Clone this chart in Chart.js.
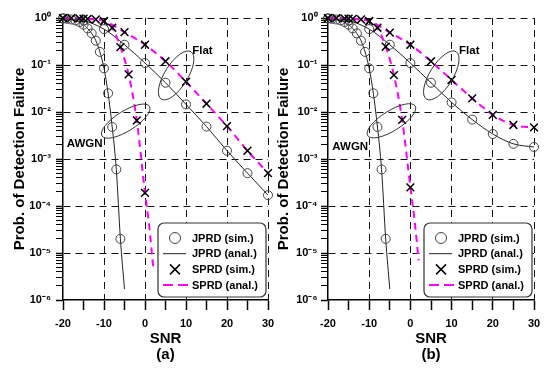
<!DOCTYPE html>
<html>
<head>
<meta charset="utf-8">
<script src="https://cdn.jsdelivr.net/npm/chart.js@4"></script>
<style>
  body { margin: 0; background: #fff; }
  #wrap { position: relative; width: 550px; height: 370px; }
  canvas { position: absolute; top: 0; }
</style>
</head>
<body>
<div id="wrap">
  <canvas id="plotA" width="290" height="370" style="left:0px"></canvas>
  <canvas id="plotB" width="280" height="370" style="left:270px"></canvas>
</div>
<script>
// SNR grids (dB)
const snrJprdAwgnSim = [-20, -19, -18, -17, -16, -15, -14, -13, -12, -11, -10, -9, -8, -7, -6];
const snrJprdAwgnAnal = [-20, -19, -18, -17, -16, -15, -14, -13, -12, -11, -10, -9, -8, -7, -6, -5];
const snrSprdAwgnSim = [-20, -18, -16, -14, -12, -10, -8, -6, -4, -2, 0];
const snrSprdAwgnAnal = [-20, -18, -16, -14, -12, -10, -8, -6, -4, -2, 0, 1, 2];
const snrFlat = [-20, -15, -10, -5, 0, 5, 10, 15, 20, 25, 30];

// (a)
const jprdAwgnSimA = [0.98, 0.96, 0.93, 0.89, 0.82, 0.72, 0.6, 0.47, 0.33, 0.19, 0.085, 0.025, 0.0048, 0.0006, 0.00002];
const jprdAwgnAnalA = [0.98, 0.96, 0.93, 0.89, 0.82, 0.72, 0.6, 0.47, 0.33, 0.19, 0.085, 0.025, 0.0048, 0.0006, 0.00002, 0.0000017];
const jprdFlatSimA = [0.98, 0.88, 0.58, 0.27, 0.11, 0.042, 0.0145, 0.0049, 0.0015, 0.0005, 0.00017];
const jprdFlatAnalA = [0.98, 0.88, 0.58, 0.27, 0.11, 0.042, 0.0145, 0.0049, 0.0015, 0.0005, 0.00017];
const sprdAwgnSimA = [0.99, 0.99, 0.98, 0.96, 0.93, 0.86, 0.62, 0.24, 0.063, 0.0066, 0.00019];
const sprdAwgnAnalA = [0.99, 0.99, 0.98, 0.96, 0.93, 0.86, 0.62, 0.24, 0.063, 0.0066, 0.00019, 0.00004, 0.000005];
const sprdFlatSimA = [0.99, 0.97, 0.86, 0.5, 0.27, 0.12, 0.044, 0.015, 0.005, 0.0015, 0.0005];
const sprdFlatAnalA = [0.99, 0.97, 0.86, 0.5, 0.27, 0.12, 0.044, 0.015, 0.005, 0.0015, 0.0005];

// (b)
const jprdAwgnSimB = [0.98, 0.96, 0.93, 0.89, 0.82, 0.72, 0.6, 0.47, 0.33, 0.19, 0.085, 0.025, 0.0048, 0.0006, 0.00002];
const jprdAwgnAnalB = [0.98, 0.96, 0.93, 0.89, 0.82, 0.72, 0.6, 0.47, 0.33, 0.19, 0.085, 0.025, 0.0048, 0.0006, 0.00002, 0.0000017];
const jprdFlatSimB = [0.98, 0.88, 0.58, 0.27, 0.11, 0.042, 0.016, 0.0069, 0.0034, 0.0021, 0.0018];
const jprdFlatAnalB = [0.98, 0.88, 0.58, 0.27, 0.11, 0.042, 0.016, 0.0069, 0.0034, 0.0021, 0.0018];
const sprdAwgnSimB = [0.99, 0.99, 0.98, 0.96, 0.93, 0.86, 0.62, 0.245, 0.061, 0.0068, 0.00025];
const sprdAwgnAnalB = [0.99, 0.99, 0.98, 0.96, 0.93, 0.86, 0.62, 0.245, 0.061, 0.0068, 0.00025, 0.00005, 0.000007];
const sprdFlatSimB = [0.99, 0.97, 0.86, 0.49, 0.27, 0.12, 0.048, 0.0195, 0.0087, 0.0053, 0.0047];
const sprdFlatAnalB = [0.99, 0.97, 0.86, 0.49, 0.27, 0.12, 0.048, 0.0195, 0.0087, 0.0053, 0.0047];

const legendLabels = ['JPRD (sim.)', 'JPRD (anal.)', 'SPRD (sim.)', 'SPRD (anal.)'];
const yTickPowers = [0, -1, -2, -3, -4, -5, -6];

const FONT = '"Liberation Sans", Arial, sans-serif';
Chart.defaults.font.family = FONT;
Chart.defaults.color = '#000';

const SUP = {'0':'⁰','1':'¹','2':'²','3':'³','4':'⁴','5':'⁵','6':'⁶','7':'⁷','8':'⁸','9':'⁹','-':'⁻'};

function pts(xs, ys) {
    return xs.map((x, i) => ({x: x, y: ys[i]}));
}

function isPow10(v) {
    const l = Math.log10(v);
    return Math.abs(l - Math.round(l)) < 1e-6;
}

function isHalfStep(v) {
    const m = v / Math.pow(10, Math.floor(Math.log10(v) + 1e-9));
    return Math.abs(m - 1.5) < 1e-6;
}

function markerSet(data, style) {
    return {
        data: data, showLine: false, clip: false,
        pointStyle: style,
        pointRadius: style === 'circle' ? 4.5 : 5.5,
        pointBorderWidth: style === 'circle' ? 1 : 1.5,
        pointBorderColor: style === 'circle' ? '#444' : '#000',
        pointBackgroundColor: 'rgba(0,0,0,0)'
    };
}

function lineSet(data, colour, width, dash) {
    return {
        data: data, showLine: true, clip: false, pointRadius: 0,
        borderColor: colour, borderWidth: width, borderDash: dash,
        cubicInterpolationMode: 'monotone'
    };
}

function overlay(notes) {
    return {
        id: 'overlay',
        afterDatasetsDraw(chart) {
            const ctx = chart.ctx;
            const a = chart.chartArea;
            const xs = chart.scales.x, ys = chart.scales.y;
            ctx.save();
            ctx.strokeStyle = '#333';
            ctx.lineWidth = 1;
            notes.ellipses.forEach(e => {
                ctx.beginPath();
                ctx.ellipse(xs.getPixelForValue(e.snr), ys.getPixelForValue(e.p), e.rx, e.ry, e.rot * Math.PI / 180, 0, 2 * Math.PI);
                ctx.stroke();
            });
            ctx.fillStyle = '#000';
            ctx.font = 'bold 11.5px ' + FONT;
            ctx.textAlign = 'center';
            ctx.textBaseline = 'middle';
            notes.labels.forEach(t => {
                ctx.fillText(t.text, xs.getPixelForValue(t.snr), ys.getPixelForValue(t.p));
            });

            // legend box
            const w = 108, h = 74, r = 6;
            const right = a.right - 2, bottom = a.bottom - 3;
            const left = right - w, top = bottom - h;
            ctx.beginPath();
            ctx.moveTo(left + r, top);
            ctx.arcTo(right, top, right, bottom, r);
            ctx.arcTo(right, bottom, left, bottom, r);
            ctx.arcTo(left, bottom, left, top, r);
            ctx.arcTo(left, top, right, top, r);
            ctx.closePath();
            ctx.fillStyle = '#fff';
            ctx.fill();
            ctx.strokeStyle = '#333';
            ctx.lineWidth = 1.2;
            ctx.stroke();

            ctx.font = 'bold 11px ' + FONT;
            ctx.textAlign = 'left';
            legendLabels.forEach((lab, i) => {
                const yy = top + 15 + i * 15.7;
                const mx = left + 17;
                ctx.save();
                if (i === 0) {
                    ctx.strokeStyle = '#444'; ctx.lineWidth = 1;
                    ctx.beginPath(); ctx.arc(mx, yy, 5.5, 0, 2 * Math.PI); ctx.stroke();
                } else if (i === 1) {
                    ctx.strokeStyle = '#222'; ctx.lineWidth = 1;
                    ctx.beginPath(); ctx.moveTo(left + 5, yy); ctx.lineTo(left + 28, yy); ctx.stroke();
                } else if (i === 2) {
                    ctx.strokeStyle = '#000'; ctx.lineWidth = 1.5;
                    ctx.beginPath();
                    ctx.moveTo(mx - 5, yy - 5); ctx.lineTo(mx + 5, yy + 5);
                    ctx.moveTo(mx + 5, yy - 5); ctx.lineTo(mx - 5, yy + 5);
                    ctx.stroke();
                } else {
                    ctx.strokeStyle = '#ff00ff'; ctx.lineWidth = 2;
                    ctx.setLineDash([10, 5]);
                    ctx.beginPath(); ctx.moveTo(left + 5, yy); ctx.lineTo(left + 30, yy); ctx.stroke();
                }
                ctx.restore();
                ctx.fillStyle = '#000';
                ctx.fillText(lab, left + 34, yy + 0.5);
            });
            ctx.restore();
        }
    };
}

function makePlot(id, cfg) {
    const tickFont = {family: FONT, size: 11, weight: 'bold'};
    const titleFont = {family: FONT, size: 15, weight: 'bold', lineHeight: '16px'};
    return new Chart(document.getElementById(id), {
        type: 'scatter',
        data: {
            datasets: [
                markerSet(pts(snrSprdAwgnSim, cfg.sprdAwgnSim), 'crossRot'),
                markerSet(pts(snrFlat, cfg.sprdFlatSim), 'crossRot'),
                markerSet(pts(snrJprdAwgnSim, cfg.jprdAwgnSim), 'circle'),
                markerSet(pts(snrFlat, cfg.jprdFlatSim), 'circle'),
                lineSet(pts(snrSprdAwgnAnal, cfg.sprdAwgnAnal), '#ff00ff', 2, [7, 5]),
                lineSet(pts(snrFlat, cfg.sprdFlatAnal), '#ff00ff', 2, [7, 5]),
                lineSet(pts(snrJprdAwgnAnal, cfg.jprdAwgnAnal), '#222', 1, []),
                lineSet(pts(snrFlat, cfg.jprdFlatAnal), '#222', 1, [])
            ]
        },
        options: {
            responsive: false,
            animation: false,
            events: [],
            layout: {padding: {top: 18, right: cfg.padRight, left: 0, bottom: 0}},
            plugins: {legend: {display: false}, tooltip: {enabled: false}},
            scales: {
                x: {
                    type: 'linear', min: -20, max: 30,
                    afterFit: s => { s.height = 70; },
                    ticks: {
                        stepSize: 5, autoSkip: false, maxRotation: 0, padding: 7,
                        color: '#000', font: tickFont,
                        callback: v => (v % 10 === 0 ? String(v) : '')
                    },
                    grid: {
                        color: c => (c.tick && c.tick.value % 10 === 0 && c.tick.value > -20) ? '#111' : 'rgba(0,0,0,0)',
                        lineWidth: 1, tickLength: 10, tickColor: '#000', tickWidth: 1.5
                    },
                    border: {display: true, color: '#000', width: 1.5, dash: [7, 5]},
                    title: {
                        display: true, text: ['SNR', cfg.tag], color: '#000',
                        font: titleFont, padding: {top: 0, bottom: 7}
                    }
                },
                y: {
                    type: 'logarithmic', min: 1e-6, max: 1,
                    afterFit: s => { s.width = cfg.axisLeft; },
                    ticks: {
                        autoSkip: false, padding: cfg.yTickPad, color: '#000', font: tickFont,
                        callback: v => {
                            if (!isPow10(v)) return '';
                            const p = Math.round(Math.log10(v));
                            if (yTickPowers.indexOf(p) < 0) return '';
                            return '10' + String(p).split('').map(ch => SUP[ch]).join('');
                        }
                    },
                    grid: {
                        color: c => (c.tick && isPow10(c.tick.value) && c.tick.value > 2e-6) ? '#111' : 'rgba(0,0,0,0)',
                        lineWidth: 1, tickLength: 7,
                        tickColor: c => (c.tick && isHalfStep(c.tick.value)) ? 'rgba(0,0,0,0)' : '#000',
                        tickWidth: c => (c.tick && isPow10(c.tick.value)) ? 1.5 : 1
                    },
                    border: {display: true, color: '#000', width: 1.5, dash: [7, 5]},
                    title: {
                        display: true, text: 'Prob. of Detection Failure', color: '#000',
                        font: titleFont, padding: {top: cfg.yTitlePad, bottom: 0}
                    }
                }
            }
        },
        plugins: [overlay(cfg.notes)]
    });
}

makePlot('plotA', {
    tag: '(a)', padRight: 22, axisLeft: 63, yTickPad: 5, yTitlePad: 11.5,
    jprdAwgnSim: jprdAwgnSimA, jprdAwgnAnal: jprdAwgnAnalA,
    jprdFlatSim: jprdFlatSimA, jprdFlatAnal: jprdFlatAnalA,
    sprdAwgnSim: sprdAwgnSimA, sprdAwgnAnal: sprdAwgnAnalA,
    sprdFlatSim: sprdFlatSimA, sprdFlatAnal: sprdFlatAnalA,
    notes: {
        ellipses: [
            {snr: 7.6, p: 0.06, rx: 28, ry: 11.5, rot: -58},
            {snr: -4.7, p: 0.0064, rx: 28, ry: 10, rot: -32}
        ],
        labels: [
            {text: 'Flat', snr: 14, p: 0.2},
            {text: 'AWGN', snr: -14.7, p: 0.0021}
        ]
    }
});

makePlot('plotB', {
    tag: '(b)', padRight: 16, axisLeft: 58, yTickPad: 3.5, yTitlePad: 5.5,
    jprdAwgnSim: jprdAwgnSimB, jprdAwgnAnal: jprdAwgnAnalB,
    jprdFlatSim: jprdFlatSimB, jprdFlatAnal: jprdFlatAnalB,
    sprdAwgnSim: sprdAwgnSimB, sprdAwgnAnal: sprdAwgnAnalB,
    sprdFlatSim: sprdFlatSimB, sprdFlatAnal: sprdFlatAnalB,
    notes: {
        ellipses: [
            {snr: 7.5, p: 0.06, rx: 28, ry: 11.5, rot: -58},
            {snr: -4.6, p: 0.0065, rx: 28, ry: 10, rot: -32}
        ],
        labels: [
            {text: 'Flat', snr: 14.3, p: 0.2},
            {text: 'AWGN', snr: -14.6, p: 0.0018}
        ]
    }
});
</script>
</body>
</html>
